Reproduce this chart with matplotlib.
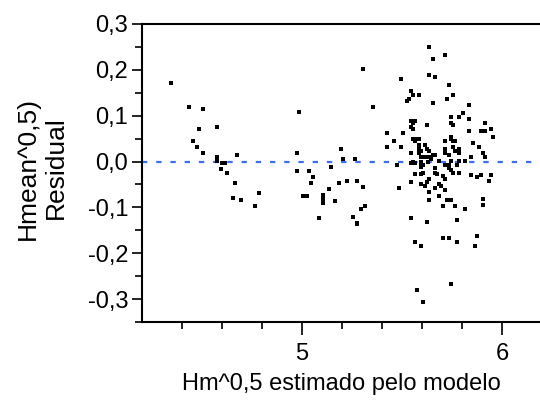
import numpy as np
import matplotlib
matplotlib.use("Agg")
import matplotlib.pyplot as plt

plt.rcParams['font.family'] = ['Liberation Sans', 'DejaVu Sans']

# estimated values (x = fitted Hm^0.5, y = residual)
x_left = [4.344, 4.435, 4.503, 4.485, 4.575, 4.453, 4.473, 4.505, 4.675, 4.575,
          4.575, 4.601, 4.615, 4.593, 4.625, 4.665, 4.785, 4.653, 4.695, 4.765]
y_left = [0.171, 0.119, 0.115, 0.071, 0.076, 0.045, 0.032, 0.019, 0.015, 0.010,
          0.001, -0.003, -0.003, -0.016, -0.024, -0.046, -0.068, -0.080, -0.084, -0.097]

x_mid = [5.305, 5.353, 4.983, 5.425, 5.460, 5.425, 5.193, 4.973, 5.205, 5.265,
         5.143, 4.973, 5.033, 5.053, 5.043, 5.183, 5.225, 5.275, 5.305, 5.133,
         5.003, 5.023, 5.103, 5.103, 5.103, 5.163, 5.315, 5.295, 5.083, 5.255,
         5.275, 5.275]
y_mid = [0.202, 0.119, 0.107, 0.063, 0.045, 0.032, 0.028, 0.019, 0.006, 0.006,
         -0.011, -0.020, -0.020, -0.033, -0.046, -0.046, -0.042, -0.042, -0.055, -0.059,
         -0.076, -0.076, -0.072, -0.081, -0.090, -0.085, -0.097, -0.103, -0.124, -0.120,
         -0.133, -0.137]

x_right = [5.635, 5.715, 5.655, 5.635, 5.665, 5.495, 5.735, 5.545, 5.555, 5.585,
           5.755, 5.535, 5.525, 5.725, 5.655, 5.835, 5.805, 5.745, 5.785, 5.835,
           5.545, 5.565, 5.555, 5.745, 5.755, 5.625, 5.545, 5.555, 5.505, 5.835,
           5.745, 5.575, 5.585, 5.565, 5.715, 5.755, 5.585, 5.615, 5.495, 5.585,
           5.625, 5.715, 5.785, 5.635, 5.545, 5.585, 5.715, 5.785, 5.595, 5.605,
           5.645, 5.655, 5.685, 5.745, 5.785, 5.815, 5.475, 5.545, 5.595, 5.715,
           5.735, 5.775, 5.915, 5.945, 5.955, 5.895, 5.915, 5.885, 5.855, 5.845,
           5.905, 5.915, 5.845, 5.785, 5.845, 5.875, 5.895, 5.945, 5.935, 5.905,
           5.905, 5.815, 5.875, 5.865,
           5.555, 5.595, 5.605, 5.632, 5.595, 5.665, 5.735, 5.745, 5.665, 5.565,
           5.595, 5.605, 5.675, 5.755, 5.785, 5.705, 5.715, 5.635, 5.545, 5.595,
           5.615, 5.625, 5.685, 5.695, 5.485, 5.665, 5.715, 5.635, 5.685, 5.635,
           5.725, 5.745, 5.705, 5.765, 5.545, 5.625, 5.775, 5.705, 5.735, 5.565,
           5.595, 5.775, 5.745, 5.575, 5.605,
           5.585, 5.595, 5.615, 5.635, 5.645, 5.615, 5.635, 5.665, 5.685, 5.745,
           5.765, 5.755, 5.715, 5.735, 5.765, 5.555, 5.585, 5.595, 5.565]
y_right = [0.250, 0.232, 0.223, 0.189, 0.184, 0.180, 0.167, 0.154, 0.145, 0.145,
           0.145, 0.137, 0.132, 0.137, 0.128, 0.123, 0.106, 0.097, 0.097, 0.093,
           0.089, 0.089, 0.084, 0.084, 0.080, 0.080, 0.076, 0.071, 0.063, 0.067,
           0.054, 0.050, 0.050, 0.045, 0.045, 0.045, 0.037, 0.037, 0.032, 0.028,
           0.028, 0.028, 0.028, 0.023, 0.019, 0.019, 0.019, 0.019, 0.010, 0.010,
           0.010, 0.015, 0.002, 0.002, 0.002, 0.002, -0.007, -0.003, -0.007, -0.007,
           -0.007, -0.007, 0.084, 0.071, 0.054, 0.067, 0.067, 0.032, 0.041, 0.010,
           0.019, 0.010, -0.029, -0.024, -0.029, -0.033, -0.029, -0.029, -0.042, -0.081,
           -0.094, -0.103, -0.163, -0.185,
           -0.002, -0.002, -0.007, 0.000, -0.011, -0.015, -0.015, -0.019, -0.024, -0.028,
           -0.028, -0.024, -0.028, -0.024, -0.024, -0.032, -0.037, -0.037, -0.045, -0.050,
           -0.054, -0.045, -0.050, -0.054, -0.058, -0.058, -0.063, -0.067, -0.076, -0.084,
           -0.084, -0.084, -0.097, -0.097, -0.123, -0.132, -0.128, -0.167, -0.167, -0.176,
           -0.184, -0.176, -0.267, -0.280, -0.306,
           0.037, 0.024, 0.010, 0.010, 0.006, 0.037, 0.024, 0.015, 0.002, 0.050,
           0.045, 0.032, 0.024, 0.015, 0.024, 0.050, 0.050, -0.004, -0.003]

x_all = x_left + x_mid + x_right
y_all = y_left + y_mid + y_right

fig = plt.figure(figsize=(5.4, 4.0), dpi=100)
ax = fig.add_axes([0.263, 0.195, 0.737, 0.745])

ax.scatter(x_all, y_all, marker='s', s=12, c='black', linewidths=0, zorder=3)
ax.axhline(0, color='#3a6ff0', lw=1.6, dashes=(2.4, 4.0), zorder=2)

ax.set_xlim(4.2, 6.19)
ax.set_ylim(-0.347, 0.3)

ax.set_xticks([5, 6])
ax.set_xticklabels(['5', '6'])
ax.set_xticks(np.arange(4.4, 6.01, 0.2), minor=True)
ax.set_yticks([-0.3, -0.2, -0.1, 0.0, 0.1, 0.2, 0.3])
ax.set_yticklabels(['-0,3', '-0,2', '-0,1', '0,0', '0,1', '0,2', '0,3'])
ax.set_yticks(np.arange(-0.35, 0.301, 0.05), minor=True)

for side in ['left', 'bottom', 'top']:
    ax.spines[side].set_linewidth(1.5)
ax.spines['right'].set_visible(False)

ax.tick_params(axis='both', which='major', direction='out', length=7, width=1.2,
               labelsize=17, color='black')
ax.tick_params(axis='both', which='minor', direction='out', length=5, width=1.2)
ax.tick_params(axis='x', which='major', length=9, pad=6)
ax.tick_params(axis='y', which='major', pad=3)

ax.set_xlabel('Hm^0,5 estimado pelo modelo', fontsize=17, labelpad=6)
fig.text(0.077, 0.58, 'Hmean^0,5)\nResidual', rotation=90, fontsize=19,
         ha='center', va='center', multialignment='center', linespacing=1.2)

fig.savefig('out.png', dpi=100)
